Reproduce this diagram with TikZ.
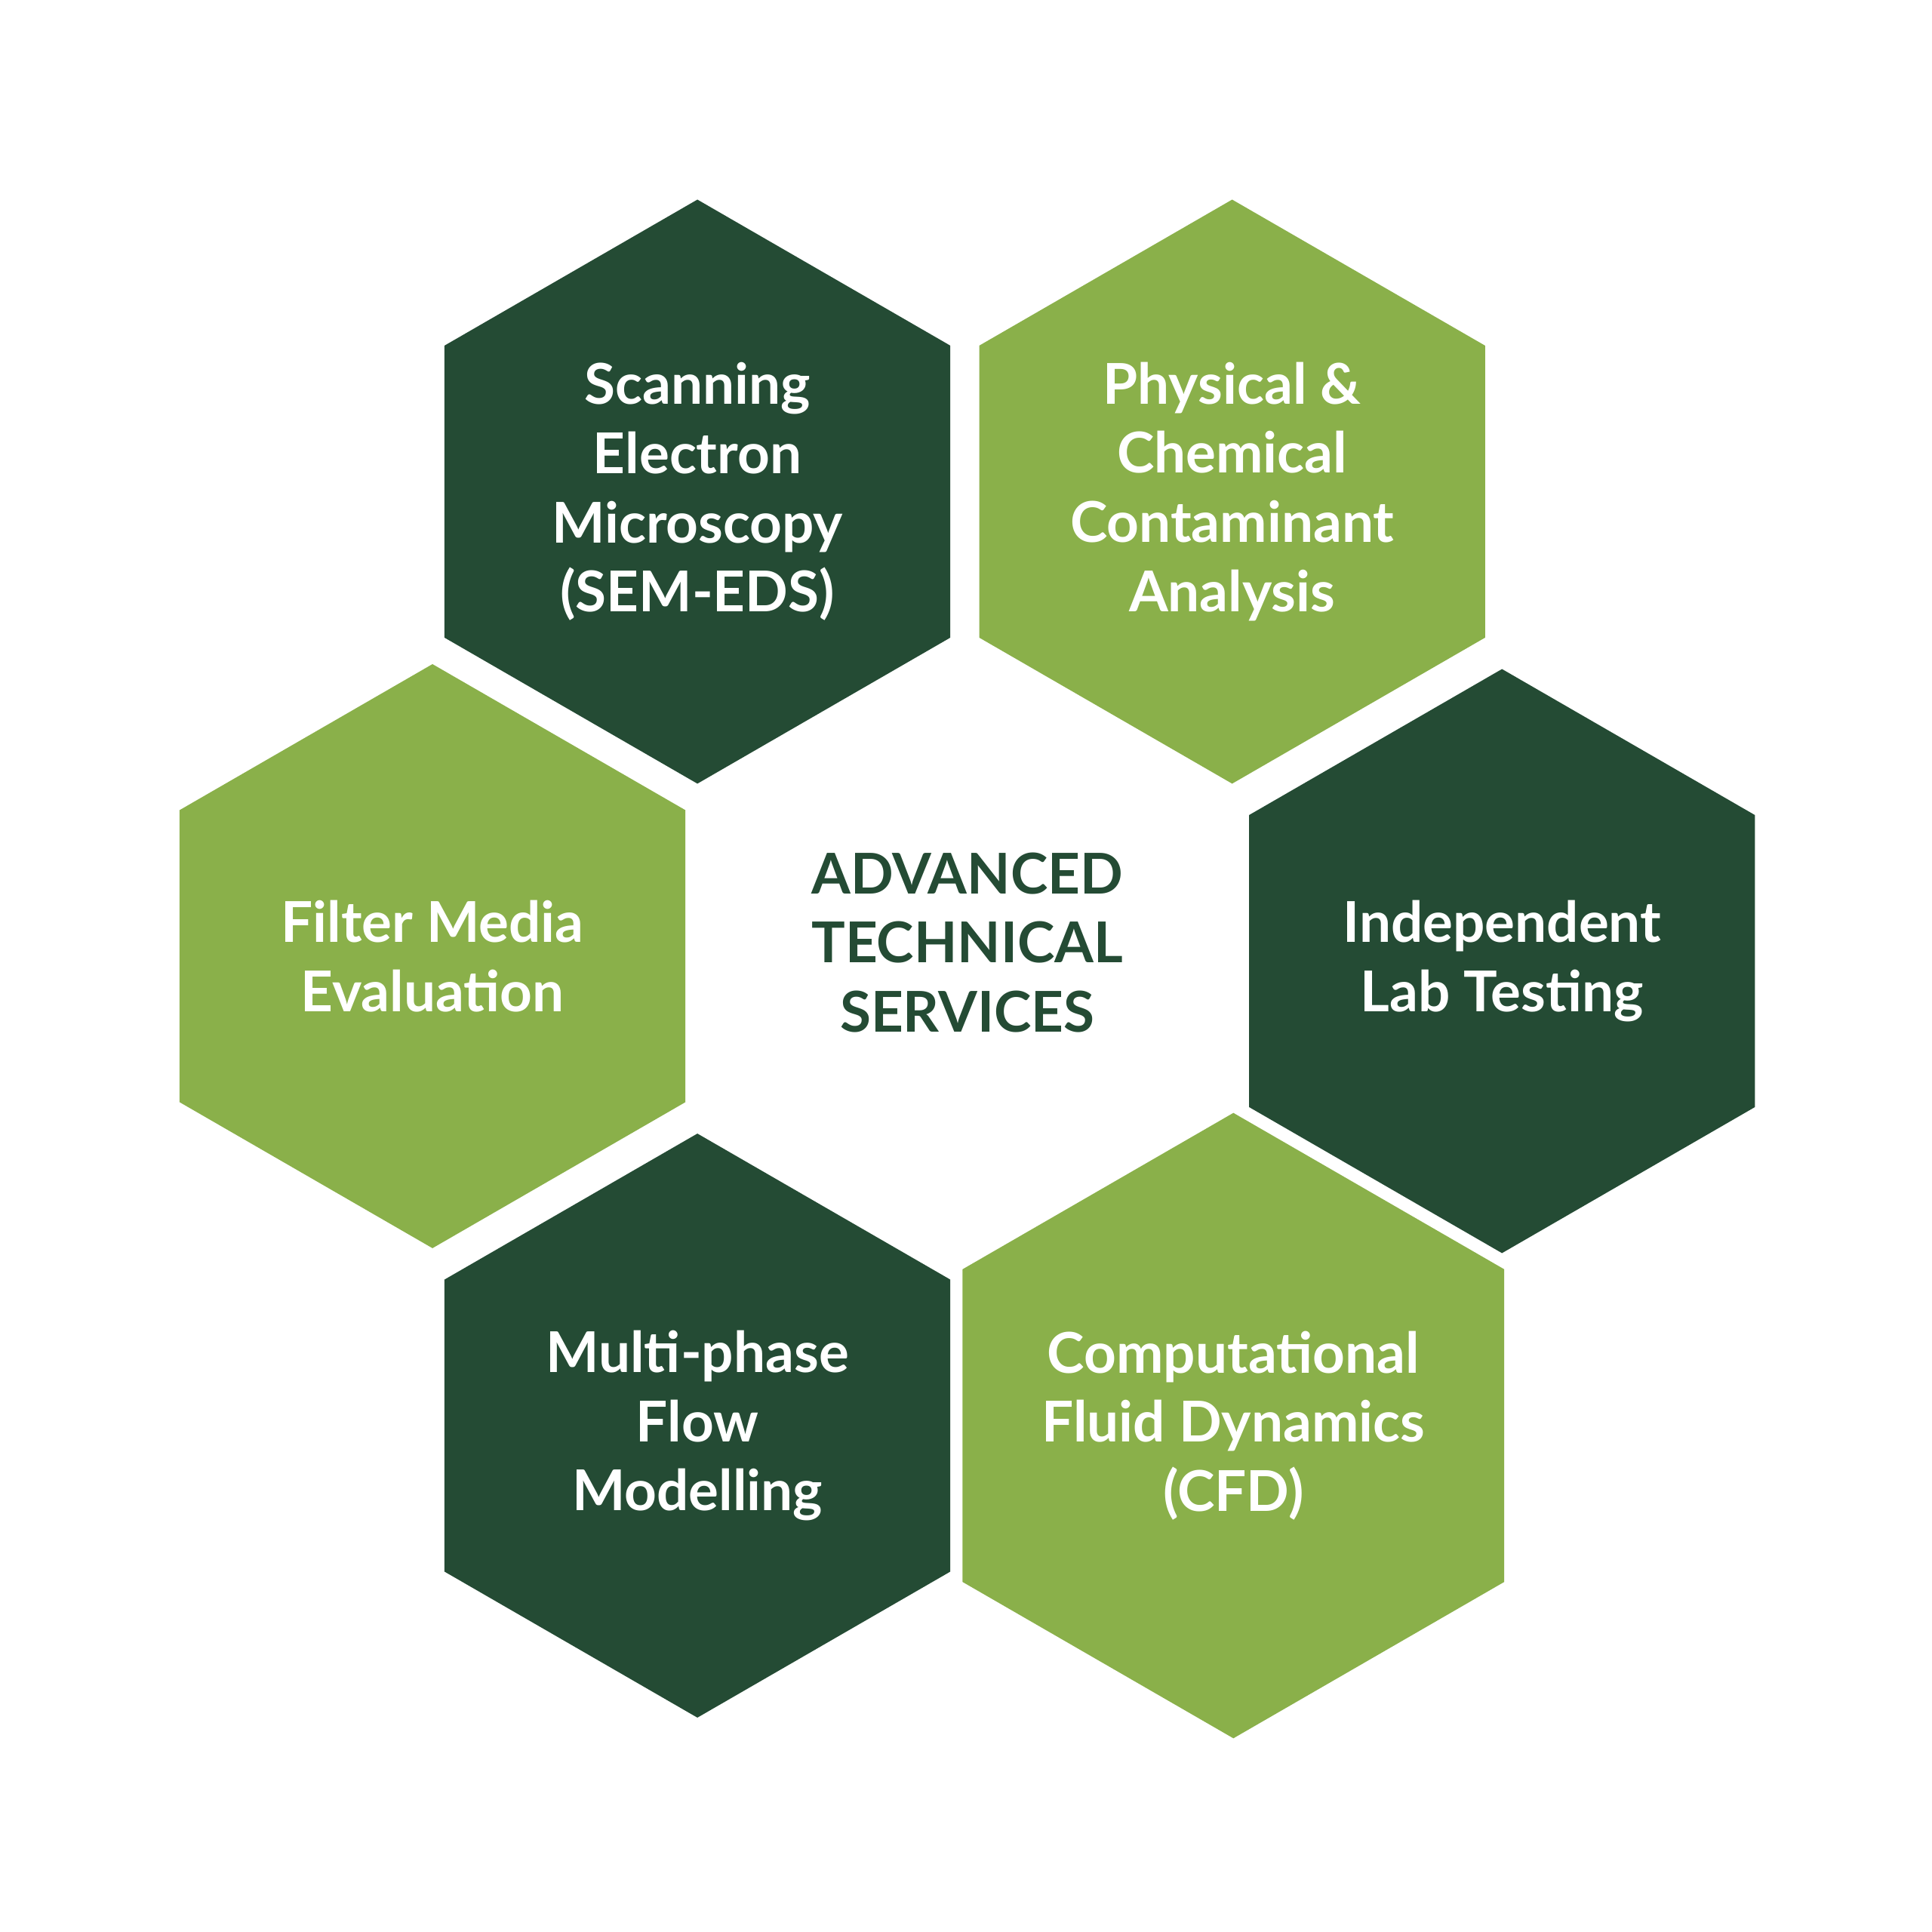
\documentclass[tikz,border=0pt]{standalone}
\usepackage{fontspec}
\setmainfont{Lato}
\usetikzlibrary{shapes.geometric}
\definecolor{darkhex}{HTML}{244B34}
\definecolor{lighthex}{HTML}{8AB04A}
\tikzset{
  hex/.style={regular polygon, regular polygon sides=6, shape border rotate=30,
    minimum size=4.74cm, inner sep=0pt, align=center, text=white,
    font=\bfseries\fontsize{13}{16}\selectfont},
  darkcell/.style={hex, fill=darkhex},
  lightcell/.style={hex, fill=lighthex},
}
\begin{document}
\begin{tikzpicture}
  \useasboundingbox (0,0) rectangle (15.68,-15.68);
  \node[darkcell] (sem) at (5.66,-3.99) {Scanning\\Electron\\Microscopy\\(SEM-EDS)};
  \node[lightcell] (chem) at (10.00,-3.99) {Physical \&\\Chemical\\Contaminant\\Analysis};
  \node[lightcell] (filter) at (3.51,-7.76) {Filter Media\\Evaluation};
  \node[darkcell] (lab) at (12.19,-7.80) {Independent\\Lab Testing};
  \node[darkcell] (flow) at (5.66,-11.57) {Multi-phase\\Flow\\Modelling};
  \node[lightcell] (cfd) at (10.01,-11.57) {Computational\\Fluid Dynamics\\(CFD)};
  \node[align=center, text=darkhex, font=\bfseries\fontsize{13}{16}\selectfont] (core) at (7.85,-7.65) {ADVANCED\\TECHNICAL\\SERVICES};
\end{tikzpicture}
\end{document}
